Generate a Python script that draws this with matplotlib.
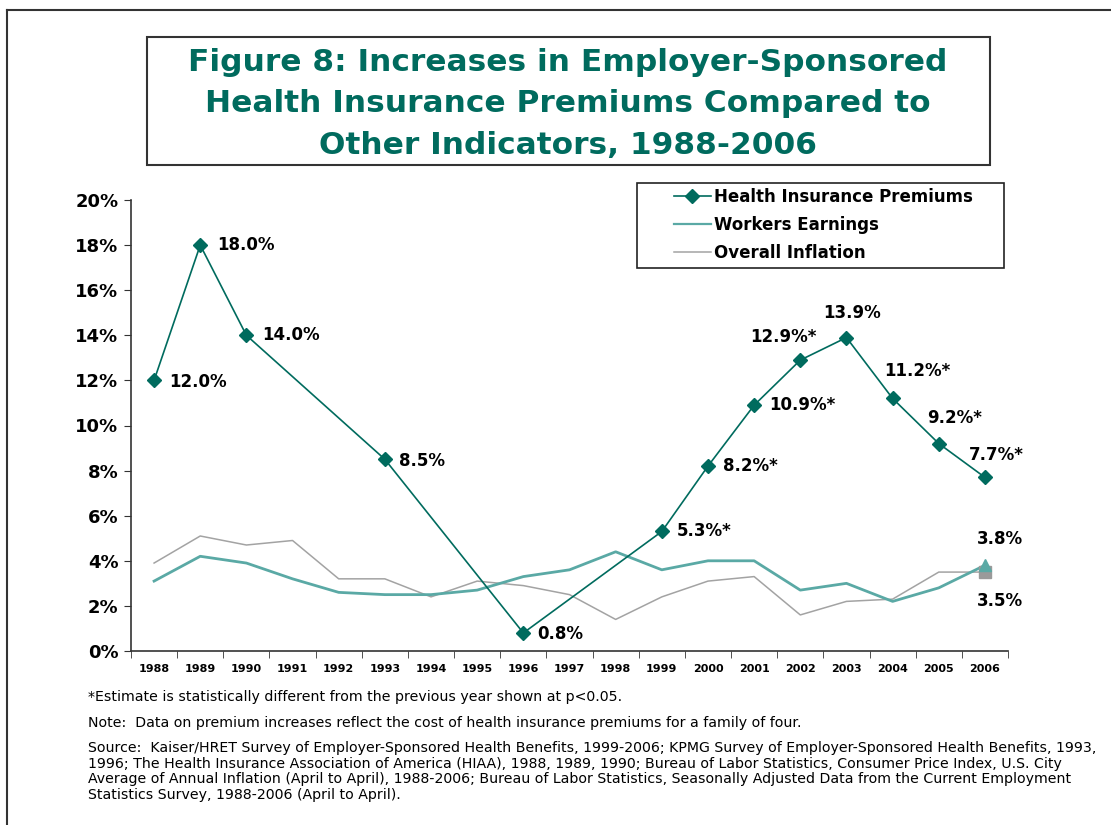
import numpy as np
import matplotlib
matplotlib.use("Agg")
import matplotlib.pyplot as plt
from matplotlib.patches import Rectangle
from matplotlib.lines import Line2D

years = [str(y) for y in range(1988, 2007)]

# premium increases (nan = no survey that year)
premiums = [12.0, 18.0, 14.0, np.nan, np.nan, 8.5, np.nan, np.nan, 0.8,
            np.nan, np.nan, 5.3, 8.2, 10.9, 12.9, 13.9, 11.2, 9.2, 7.7]
premium_labels = ["12.0%", "18.0%", "14.0%", "", "", "8.5%", "", "", "0.8%",
                  "", "", "5.3%*", "8.2%*", "10.9%*", "12.9%*", "13.9%",
                  "11.2%*", "9.2%*", "7.7%*"]
earnings = [3.1, 4.2, 3.9, 3.2, 2.6, 2.5, 2.5, 2.7, 3.3, 3.6,
            4.4, 3.6, 4.0, 4.0, 2.7, 3.0, 2.2, 2.8, 3.8]
inflation = [3.9, 5.1, 4.7, 4.9, 3.2, 3.2, 2.4, 3.1, 2.9, 2.5,
             1.4, 2.4, 3.1, 3.3, 1.6, 2.2, 2.3, 3.5, 3.5]

TEAL_DARK = "#006b5e"
TEAL = "#5aa9a5"
GREY = "#a3a3a3"

fig = plt.figure(figsize=(11.11, 8.25), dpi=100)
ax = fig.add_axes([131 / 1111, 1 - 651 / 825, 877 / 1111, 451 / 825])

x = np.arange(len(years))
prem = np.array(premiums)
ok = ~np.isnan(prem)

ax.plot(x, inflation, color=GREY, lw=1.1, zorder=2)
ax.plot(x, earnings, color=TEAL, lw=2.0, zorder=3)
ax.plot(x[ok], prem[ok], color=TEAL_DARK, lw=1.2, marker="D", ms=7.5, zorder=4)
# end-point markers for 2006
ax.plot(x[-1], inflation[-1], marker="s", color="#9a9a9a", ms=8.5, zorder=5)
ax.plot(x[-1], earnings[-1], marker="^", color=TEAL, ms=8.5, zorder=5)

# label offsets in pixels (dx, dy, ha)
offsets = {0: (15, -2, "left"), 1: (17, 0, "left"), 2: (16, 0, "left"),
           5: (14, -2, "left"), 8: (14, -1, "left"), 11: (15, 0, "left"),
           12: (15, 0, "left"), 13: (15, 0, "left"), 14: (-17, 23, "center"),
           15: (6, 25, "center"), 16: (25, 27, "center"), 17: (16, 26, "center"),
           18: (11, 22, "center")}
for i, (dx, dy, ha) in offsets.items():
    ax.annotate(premium_labels[i], (x[i], prem[i]), xytext=(dx, dy),
                textcoords="offset pixels", ha=ha, va="center",
                fontsize=12, fontweight="bold")
ax.annotate(f"{earnings[-1]:.1f}%", (x[-1], earnings[-1]), xytext=(15, 26),
            textcoords="offset pixels", ha="center", va="center",
            fontsize=12, fontweight="bold")
ax.annotate(f"{inflation[-1]:.1f}%", (x[-1], inflation[-1]), xytext=(15, -29),
            textcoords="offset pixels", ha="center", va="center",
            fontsize=12, fontweight="bold")

ax.set_xlim(-0.5, len(years) - 0.5)
ax.set_ylim(0, 20)
ax.set_yticks(range(0, 21, 2))
ax.set_yticklabels([f"{v}%" for v in range(0, 21, 2)], fontsize=13, fontweight="bold")
ax.set_xticks(x)
ax.set_xticklabels(years, fontsize=8, fontweight="bold")
ax.set_xticks(np.arange(-0.5, len(years), 1), minor=True)
ax.tick_params(axis="x", which="major", length=0, pad=9)
ax.tick_params(axis="x", which="minor", length=5, direction="out", color="#333333")
ax.tick_params(axis="y", length=5, direction="out", color="#333333", pad=4)
for s in ["top", "right"]:
    ax.spines[s].set_visible(False)
for s in ["left", "bottom"]:
    ax.spines[s].set_color("#333333")
    ax.spines[s].set_linewidth(1.2)

# legend
handles = [Line2D([], [], color=TEAL_DARK, lw=1.2, marker="D", ms=7),
           Line2D([], [], color=TEAL, lw=1.6),
           Line2D([], [], color=GREY, lw=1.1)]
names = ["Health Insurance Premiums", "Workers Earnings", "Overall Inflation"]
fig.legend(handles, names, loc="upper left", bbox_to_anchor=(674 / 1111, 1 - 188 / 825),
           frameon=False, prop={"weight": "bold", "size": 12}, handlelength=2.2,
           handletextpad=0.2, labelspacing=0.6, borderpad=0, borderaxespad=0)
fig.patches.append(Rectangle((637 / 1111, 1 - 268 / 825), 367 / 1111, 85 / 825,
                             transform=fig.transFigure, fill=False,
                             edgecolor="#222222", lw=1.2))

# title box
fig.patches.append(Rectangle((147 / 1111, 1 - 165 / 825), 843 / 1111, 128 / 825,
                             transform=fig.transFigure, fill=False,
                             edgecolor="#333333", lw=1.5))
fig.text(568 / 1111, 1 - 104 / 825,
         "Figure 8: Increases in Employer-Sponsored\nHealth Insurance Premiums Compared to\nOther Indicators, 1988-2006",
         ha="center", va="center", color=TEAL_DARK, fontsize=22.5, fontweight="bold",
         linespacing=1.53)

# outer page frame
fig.add_artist(Line2D([7 / 1111, 1], [1 - 10 / 825, 1 - 10 / 825],
                      transform=fig.transFigure, color="#333333", lw=1.5))
fig.add_artist(Line2D([7 / 1111, 7 / 1111], [0, 1 - 10 / 825],
                      transform=fig.transFigure, color="#333333", lw=1.5))

# notes
note_font = {"family": ["Liberation Sans Narrow", "DejaVu Sans"], "size": 10.2}
fig.text(88 / 1111, 1 - 697 / 825,
         "*Estimate is statistically different from the previous year shown at p<0.05.",
         va="center", **note_font)
fig.text(88 / 1111, 1 - 723 / 825,
         "Note:  Data on premium increases reflect the cost of health insurance premiums for a family of four.",
         va="center", **note_font)
fig.text(88 / 1111, 1 - 741 / 825,
         "Source:  Kaiser/HRET Survey of Employer-Sponsored Health Benefits, 1999-2006; KPMG Survey of Employer-Sponsored Health Benefits, 1993,\n"
         "1996; The Health Insurance Association of America (HIAA), 1988, 1989, 1990; Bureau of Labor Statistics, Consumer Price Index, U.S. City\n"
         "Average of Annual Inflation (April to April), 1988-2006; Bureau of Labor Statistics, Seasonally Adjusted Data from the Current Employment\n"
         "Statistics Survey, 1988-2006 (April to April).",
         va="top", linespacing=1.15, **note_font)

fig.savefig("out.png", dpi=100)
